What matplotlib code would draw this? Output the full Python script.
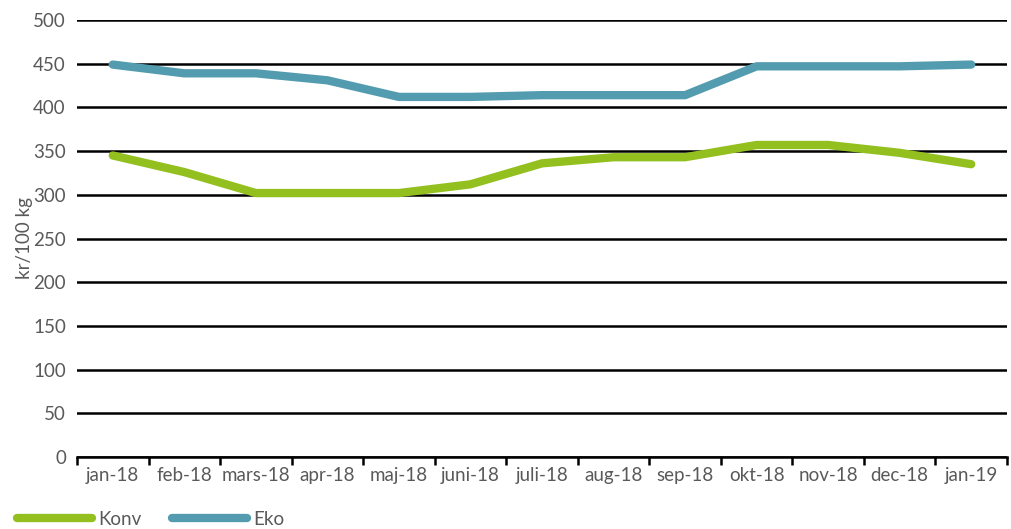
import matplotlib
matplotlib.use("Agg")
import matplotlib.pyplot as plt
from matplotlib.lines import Line2D

categories = ["jan-18", "feb-18", "mars-18", "apr-18", "maj-18", "juni-18", "juli-18",
              "aug-18", "sep-18", "okt-18", "nov-18", "dec-18", "jan-19"]
konv = [345, 326, 302, 302, 302, 312, 336, 343, 343, 357, 357, 348, 335]
eko = [449, 439, 439, 431, 412, 412, 414, 414, 414, 447, 447, 447, 449]
yticks = [0, 50, 100, 150, 200, 250, 300, 350, 400, 450, 500]

plt.rcParams['font.family'] = ['Lato', 'DejaVu Sans']
tc = "#595959"
c_konv = "#93c01f"
c_eko = "#539caf"
fs = 13.5

fig = plt.figure(figsize=(10.11, 5.29), dpi=100)
ax = fig.add_axes([77/1011, 1-457/529, (1007-77)/1011, (457-20)/529])
x = list(range(len(categories)))
ax.plot(x, konv, color=c_konv, lw=6, solid_capstyle='round', solid_joinstyle='round', zorder=3)
ax.plot(x, eko, color=c_eko, lw=6, solid_capstyle='round', solid_joinstyle='round', zorder=3)

ax.set_ylim(0, 500)
ax.set_xlim(-0.5, len(categories) - 0.5)
ax.set_yticks(yticks)
ax.yaxis.grid(True, color="black", lw=1.8)
ax.set_axisbelow(True)
for s in ["left", "right", "top"]:
    ax.spines[s].set_visible(False)
ax.spines["bottom"].set_linewidth(1.8)
ax.tick_params(axis="y", length=0, labelsize=fs, labelcolor=tc, pad=8)
ax.set_xticks([i - 0.5 for i in range(len(categories) + 1)])
ax.set_xticklabels([])
ax.tick_params(axis="x", which="major", length=6, width=1.8, direction="out")
ax.set_xticks(x, minor=True)
ax.set_xticklabels(categories, minor=True)
ax.tick_params(axis="x", which="minor", length=0, labelsize=fs, labelcolor=tc, pad=7)
ax.set_ylabel("kr/100 kg", color=tc, fontsize=fs, labelpad=0)

handles = [Line2D([], [], color=c_konv, lw=6, solid_capstyle='round'),
           Line2D([], [], color=c_eko, lw=6, solid_capstyle='round')]
fig.legend(handles, ["Konv", "Eko"], loc="lower left", bbox_to_anchor=(0.0, -0.03),
           ncol=2, frameon=False, handlelength=4.0, handletextpad=0.35, columnspacing=1.6,
           fontsize=fs, labelcolor=tc)

fig.savefig("out.png", dpi=100)
